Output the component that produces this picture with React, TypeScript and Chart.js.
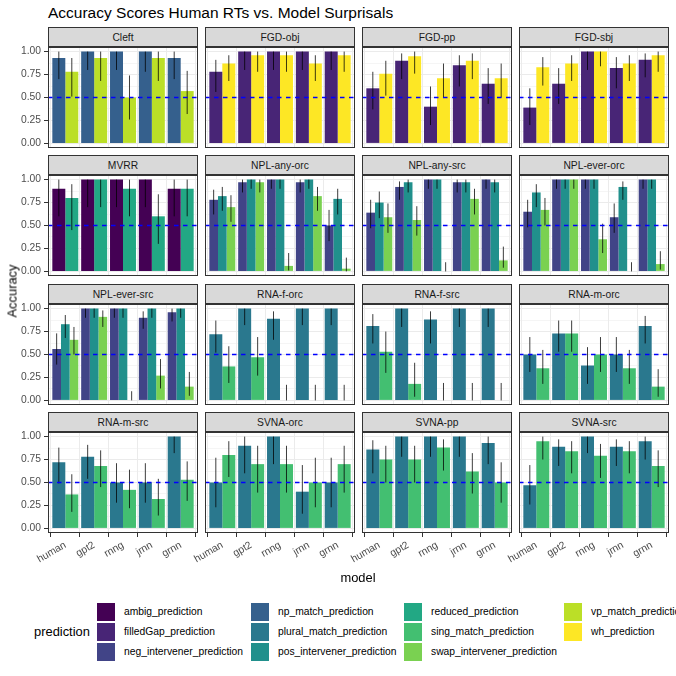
import React, { useEffect, useRef } from "react";
import { Chart, registerables } from "chart.js";

Chart.register(...registerables);

// ---------- data ----------
const models = ["human", "gpt2", "rnng", "jrnn", "grnn"];

const predictionNames = [
  "ambig_prediction",
  "filledGap_prediction",
  "neg_intervener_prediction",
  "np_match_prediction",
  "plural_match_prediction",
  "pos_intervener_prediction",
  "reduced_prediction",
  "sing_match_prediction",
  "swap_intervener_prediction",
  "vp_match_prediction",
  "wh_prediction",
];

const predictionColors = [
  "#440154",
  "#482576",
  "#414487",
  "#35608D",
  "#2A788E",
  "#21908C",
  "#22A884",
  "#43BF71",
  "#7AD151",
  "#BBDF27",
  "#FDE725",
];

const yTickValues = [0, 0.125, 0.25, 0.375, 0.5, 0.625, 0.75, 0.875, 1];
const yTickLabels = ["0.00", "", "0.25", "", "0.50", "", "0.75", "", "1.00"];

// Cleft: np_match, vp_match
const cleftPreds = [3, 9];
const cleftAcc = [[0.93, 1, 1, 1, 0.93], [0.78, 0.93, 0.5, 0.93, 0.57]];
const cleftLo = [[0.7, 0.8, 0.8, 0.78, 0.7], [0.51, 0.68, 0.26, 0.68, 0.32]];
const cleftHi = [[1, 1, 1, 1, 1], [0.93, 1, 0.74, 1, 0.79]];

// FGD-obj: filledGap, wh
const fgdObjPreds = [1, 10];
const fgdObjAcc = [[0.78, 1, 1, 1, 1], [0.87, 0.96, 0.96, 0.87, 0.96]];
const fgdObjLo = [[0.56, 0.8, 0.8, 0.8, 0.8], [0.68, 0.78, 0.78, 0.68, 0.78]];
const fgdObjHi = [[0.91, 1, 1, 1, 1], [0.96, 1, 1, 0.96, 1]];

// FGD-pp
const fgdPpPreds = [1, 10];
const fgdPpAcc = [[0.6, 0.9, 0.4, 0.85, 0.65], [0.76, 0.95, 0.71, 0.9, 0.71]];
const fgdPpLo = [[0.37, 0.7, 0.2, 0.62, 0.43], [0.52, 0.76, 0.5, 0.7, 0.5]];
const fgdPpHi = [[0.78, 0.98, 0.62, 0.96, 0.82], [0.9, 1, 0.87, 0.98, 0.87]];

// FGD-sbj
const fgdSbjPreds = [1, 10];
const fgdSbjAcc = [[0.39, 0.65, 1, 0.82, 0.91], [0.83, 0.87, 1, 0.87, 0.96]];
const fgdSbjLo = [[0.2, 0.43, 0.8, 0.6, 0.72], [0.63, 0.68, 0.84, 0.68, 0.78]];
const fgdSbjHi = [[0.6, 0.82, 1, 0.94, 0.98], [0.94, 0.96, 1, 0.96, 1]];

// MVRR: ambig, reduced
const mvrrPreds = [0, 6];
const mvrrAcc = [[0.9, 1, 1, 1, 0.9], [0.8, 1, 0.9, 0.6, 0.9]];
const mvrrLo = [[0.6, 0.7, 0.7, 0.7, 0.6], [0.45, 0.7, 0.6, 0.3, 0.6]];
const mvrrHi = [[1, 1, 1, 1, 1], [0.95, 1, 1, 0.84, 1]];

// NPL-any-orc: neg, pos, swap
const nplAnyOrcPreds = [2, 5, 8];
const nplAnyOrcAcc = [[0.78, 0.97, 1, 0.97, 0.5], [0.82, 1, 1, 1, 0.79], [0.7, 0.97, 0.06, 0.82, 0.03]];
const nplAnyOrcLo = [[0.62, 0.86, 0.9, 0.86, 0.33], [0.66, 0.9, 0.9, 0.9, 0.62], [0.54, 0.86, 0.01, 0.66, 0]];
const nplAnyOrcHi = [[0.89, 1, 1, 1, 0.67], [0.92, 1, 1, 1, 0.9], [0.83, 1, 0.2, 0.92, 0.15]];

// NPL-any-src
const nplAnySrcPreds = [2, 5, 8];
const nplAnySrcAcc = [[0.64, 0.92, 1, 0.97, 1], [0.75, 0.97, 1, 0.97, 0.97], [0.59, 0.56, 0, 0.79, 0.12]];
const nplAnySrcLo = [[0.47, 0.78, 0.9, 0.86, 0.9], [0.58, 0.86, 0.9, 0.86, 0.86], [0.42, 0.39, 0, 0.62, 0.04]];
const nplAnySrcHi = [[0.78, 0.98, 1, 1, 1], [0.87, 1, 1, 1, 1], [0.74, 0.71, 0.1, 0.9, 0.27]];

// NPL-ever-orc
const nplEverOrcPreds = [2, 5, 8];
const nplEverOrcAcc = [[0.65, 1, 1, 0.59, 1], [0.86, 1, 1, 0.92, 1], [0.67, 1, 0.35, 0, 0.08]];
const nplEverOrcLo = [[0.48, 0.9, 0.9, 0.42, 0.9], [0.7, 0.9, 0.9, 0.78, 0.9], [0.5, 0.9, 0.2, 0, 0.02]];
const nplEverOrcHi = [[0.78, 1, 1, 0.74, 1], [0.95, 1, 1, 0.98, 1], [0.8, 1, 0.52, 0.1, 0.22]];

// NPL-ever-src
const nplEverSrcPreds = [2, 5, 8];
const nplEverSrcAcc = [[0.56, 1, 1, 0.9, 0.96], [0.83, 1, 1, 1, 1], [0.66, 0.91, 0, 0.27, 0.15]];
const nplEverSrcLo = [[0.39, 0.9, 0.9, 0.78, 0.86], [0.68, 0.9, 0.9, 0.9, 0.9], [0.5, 0.8, 0, 0.13, 0.05]];
const nplEverSrcHi = [[0.73, 1, 1, 0.97, 1], [0.93, 1, 1, 1, 1], [0.8, 0.98, 0.1, 0.45, 0.31]];

// RNA-f-orc: plural, sing
const rnaFOrcPreds = [4, 7];
const rnaFOrcAcc = [[0.72, 1, 0.89, 1, 1], [0.37, 0.47, 0, 0, 0]];
const rnaFOrcLo = [[0.52, 0.82, 0.66, 0.82, 0.82], [0.19, 0.27, 0, 0, 0]];
const rnaFOrcHi = [[0.87, 1, 0.97, 1, 1], [0.59, 0.69, 0.17, 0.17, 0.17]];

// RNA-f-src
const rnaFSrcPreds = [4, 7];
const rnaFSrcAcc = [[0.81, 1, 0.88, 1, 1], [0.53, 0.18, 0, 0, 0]];
const rnaFSrcLo = [[0.62, 0.8, 0.62, 0.8, 0.8], [0.3, 0.04, 0, 0, 0]];
const rnaFSrcHi = [[0.94, 1, 0.97, 1, 1], [0.75, 0.41, 0.19, 0.19, 0.19]];

// RNA-m-orc
const rnaMOrcPreds = [4, 7];
const rnaMOrcAcc = [[0.5, 0.73, 0.38, 0.5, 0.81], [0.35, 0.73, 0.5, 0.35, 0.15]];
const rnaMOrcLo = [[0.31, 0.53, 0.18, 0.31, 0.62], [0.18, 0.53, 0.31, 0.18, 0.04]];
const rnaMOrcHi = [[0.69, 0.87, 0.58, 0.69, 0.92], [0.55, 0.87, 0.69, 0.55, 0.34]];

// RNA-m-src
const rnaMSrcPreds = [4, 7];
const rnaMSrcAcc = [[0.72, 0.78, 0.5, 0.5, 1], [0.37, 0.68, 0.42, 0.32, 0.53]];
const rnaMSrcLo = [[0.49, 0.54, 0.28, 0.28, 0.82], [0.18, 0.45, 0.22, 0.14, 0.3]];
const rnaMSrcHi = [[0.88, 0.91, 0.71, 0.71, 1], [0.59, 0.85, 0.64, 0.54, 0.73]];

// SVNA-orc
const svnaOrcPreds = [4, 7];
const svnaOrcAcc = [[0.5, 0.9, 1, 0.4, 0.5], [0.8, 0.7, 0.7, 0.5, 0.7]];
const svnaOrcLo = [[0.23, 0.6, 0.7, 0.16, 0.23], [0.56, 0.39, 0.39, 0.23, 0.39]];
const svnaOrcHi = [[0.77, 1, 1, 0.69, 0.77], [0.95, 0.9, 0.9, 0.77, 0.9]];

// SVNA-pp
const svnaPpPreds = [4, 7];
const svnaPpAcc = [[0.86, 1, 1, 1, 0.93], [0.75, 0.75, 0.88, 0.62, 0.5]];
const svnaPpLo = [[0.6, 0.78, 0.78, 0.78, 0.7], [0.5, 0.5, 0.63, 0.38, 0.28]];
const svnaPpHi = [[0.96, 1, 1, 1, 1], [0.9, 0.9, 0.97, 0.82, 0.72]];

// SVNA-src
const svnaSrcPreds = [4, 7];
const svnaSrcAcc = [[0.47, 0.89, 1, 0.89, 0.95], [0.95, 0.84, 0.79, 0.84, 0.68]];
const svnaSrcLo = [[0.26, 0.68, 0.82, 0.68, 0.75], [0.75, 0.6, 0.55, 0.6, 0.45]];
const svnaSrcHi = [[0.69, 0.97, 1, 0.97, 1], [1, 0.95, 0.92, 0.95, 0.85]];

const panelTitles = [
  "Cleft", "FGD-obj", "FGD-pp", "FGD-sbj",
  "MVRR", "NPL-any-orc", "NPL-any-src", "NPL-ever-orc",
  "NPL-ever-src", "RNA-f-orc", "RNA-f-src", "RNA-m-orc",
  "RNA-m-src", "SVNA-orc", "SVNA-pp", "SVNA-src",
];

const panels = [
  { preds: cleftPreds, acc: cleftAcc, lo: cleftLo, hi: cleftHi },
  { preds: fgdObjPreds, acc: fgdObjAcc, lo: fgdObjLo, hi: fgdObjHi },
  { preds: fgdPpPreds, acc: fgdPpAcc, lo: fgdPpLo, hi: fgdPpHi },
  { preds: fgdSbjPreds, acc: fgdSbjAcc, lo: fgdSbjLo, hi: fgdSbjHi },
  { preds: mvrrPreds, acc: mvrrAcc, lo: mvrrLo, hi: mvrrHi },
  { preds: nplAnyOrcPreds, acc: nplAnyOrcAcc, lo: nplAnyOrcLo, hi: nplAnyOrcHi },
  { preds: nplAnySrcPreds, acc: nplAnySrcAcc, lo: nplAnySrcLo, hi: nplAnySrcHi },
  { preds: nplEverOrcPreds, acc: nplEverOrcAcc, lo: nplEverOrcLo, hi: nplEverOrcHi },
  { preds: nplEverSrcPreds, acc: nplEverSrcAcc, lo: nplEverSrcLo, hi: nplEverSrcHi },
  { preds: rnaFOrcPreds, acc: rnaFOrcAcc, lo: rnaFOrcLo, hi: rnaFOrcHi },
  { preds: rnaFSrcPreds, acc: rnaFSrcAcc, lo: rnaFSrcLo, hi: rnaFSrcHi },
  { preds: rnaMOrcPreds, acc: rnaMOrcAcc, lo: rnaMOrcLo, hi: rnaMOrcHi },
  { preds: rnaMSrcPreds, acc: rnaMSrcAcc, lo: rnaMSrcLo, hi: rnaMSrcHi },
  { preds: svnaOrcPreds, acc: svnaOrcAcc, lo: svnaOrcLo, hi: svnaOrcHi },
  { preds: svnaPpPreds, acc: svnaPpAcc, lo: svnaPpLo, hi: svnaPpHi },
  { preds: svnaSrcPreds, acc: svnaSrcAcc, lo: svnaSrcLo, hi: svnaSrcHi },
];

const legendColumns = [[0, 1, 2], [3, 4, 5], [6, 7, 8], [9, 10]];

// ---------- layout ----------
const FONT = '"Liberation Sans", Arial, Helvetica, sans-serif';
const PANEL_LEFT = [48, 205, 362, 519];
const PANEL_TOP = [47, 175, 304, 432];
const PANEL_W = 150;
const PANEL_H = 101;
const STRIP_H = 20;
const YAXIS_W = 48;
const XAXIS_H = 56;
const TOP_PAD = 8;
const LEGEND_KEY_X = [97, 251, 404, 564];
const LEGEND_KEY_Y = [603, 623, 643];

function Panel({ index }: { index: number }) {
  const ref = useRef<HTMLCanvasElement | null>(null);
  const row = Math.floor(index / 4);
  const col = index % 4;
  const isLeft = col === 0;
  const isBottom = row === 3;
  const width = YAXIS_W + PANEL_W;
  const height = TOP_PAD + PANEL_H + (isBottom ? XAXIS_H : 0);

  useEffect(() => {
    const p = panels[index];
    const decor = {
      id: "panelDecor" + index,
      afterDatasetsDraw(chart: any) {
        const { ctx, chartArea, scales } = chart;
        ctx.save();
        ctx.strokeStyle = "rgba(0,0,0,0.85)";
        ctx.lineWidth = 0.9;
        p.preds.forEach((_: number, k: number) => {
          const meta = chart.getDatasetMeta(k);
          meta.data.forEach((el: any, i: number) => {
            const y1 = scales.y.getPixelForValue(p.lo[k][i]);
            const y2 = scales.y.getPixelForValue(p.hi[k][i]);
            ctx.beginPath();
            ctx.moveTo(el.x, y1);
            ctx.lineTo(el.x, y2);
            ctx.stroke();
          });
        });
        const yh = scales.y.getPixelForValue(0.5);
        ctx.strokeStyle = "#0000FF";
        ctx.lineWidth = 1.3;
        ctx.setLineDash([4.5, 4.5]);
        ctx.beginPath();
        ctx.moveTo(chartArea.left, yh);
        ctx.lineTo(chartArea.right, yh);
        ctx.stroke();
        ctx.setLineDash([]);
        ctx.strokeStyle = "#333333";
        ctx.lineWidth = 1;
        ctx.strokeRect(
          chartArea.left + 0.5,
          chartArea.top + 0.5,
          chartArea.right - chartArea.left - 1,
          chartArea.bottom - chartArea.top - 1
        );
        ctx.restore();
      },
    };

    const tickFont = { family: FONT, size: 10.3, weight: "normal" };
    const chart = new Chart(ref.current as HTMLCanvasElement, {
      type: "bar",
      data: {
        datasets: p.preds.map((pi: number, k: number) => ({
          label: predictionNames[pi],
          data: models.map((_, i) => ({ x: i + 1, y: p.acc[k][i] })),
          backgroundColor: predictionColors[pi],
          borderWidth: 0,
          categoryPercentage: 0.9,
          barPercentage: 1.0,
        })),
      },
      options: {
        animation: false,
        responsive: false,
        events: [],
        layout: { padding: { top: TOP_PAD, left: 0, right: 0, bottom: 0 } },
        plugins: {
          legend: { display: false },
          tooltip: { enabled: false },
          title: { display: false },
        },
        scales: {
          x: {
            type: "linear",
            min: 0.4,
            max: 5.6,
            offset: false,
            afterBuildTicks: (s: any) => {
              s.ticks = models.map((_, i) => ({ value: i + 1 }));
            },
            afterFit: (s: any) => {
              s.height = isBottom ? XAXIS_H : 0;
              s.paddingLeft = 0;
              s.paddingRight = 0;
              s.paddingTop = 0;
              s.paddingBottom = 0;
            },
            ticks: {
              display: isBottom,
              autoSkip: false,
              minRotation: 30,
              maxRotation: 30,
              padding: 2,
              color: "#4D4D4D",
              font: tickFont,
              callback: (v: any) => models[Math.round(v) - 1] ?? "",
            },
            grid: {
              color: "#EBEBEB",
              lineWidth: 1,
              drawTicks: isBottom,
              tickLength: 4,
              tickColor: "#333333",
              tickWidth: 1,
            },
            border: { display: false },
          },
          y: {
            type: "linear",
            min: -0.05,
            max: 1.05,
            afterBuildTicks: (s: any) => {
              s.ticks = yTickValues.map((v) => ({ value: v }));
            },
            afterFit: (s: any) => {
              s.width = YAXIS_W;
              s.paddingLeft = 0;
              s.paddingRight = 0;
              s.paddingTop = 0;
              s.paddingBottom = 0;
            },
            ticks: {
              display: isLeft,
              autoSkip: false,
              padding: 3,
              color: "#4D4D4D",
              font: tickFont,
              callback: (v: any, i: number) => yTickLabels[i] ?? "",
            },
            grid: {
              color: "#EBEBEB",
              lineWidth: (c: any) => (c.index % 2 === 0 ? 1 : 0.5),
              drawTicks: isLeft,
              tickLength: 4,
              tickWidth: 1,
              tickColor: (c: any) => (c.index % 2 === 0 ? "#333333" : "rgba(0,0,0,0)"),
            },
            border: { display: false },
          },
        },
      } as any,
      plugins: [decor],
    });
    return () => chart.destroy();
  }, [index]);

  return (
    <canvas
      ref={ref}
      width={width}
      height={height}
      style={{
        position: "absolute",
        left: PANEL_LEFT[col] - YAXIS_W,
        top: PANEL_TOP[row] - TOP_PAD,
        width,
        height,
      }}
    />
  );
}

export default function App() {
  const text = { fontWeight: 400 as const, whiteSpace: "nowrap" as const };
  return (
    <div
      style={{
        position: "absolute",
        left: 0,
        top: 0,
        width: 676,
        height: 676,
        overflow: "hidden",
        background: "#FFFFFF",
        fontFamily: FONT,
        fontWeight: 400,
      }}
    >
      <div
        style={{
          ...text,
          position: "absolute",
          left: 48,
          top: 4,
          fontSize: 15.5,
          lineHeight: "18px",
          color: "#000",
        }}
      >
        Accuracy Scores Human RTs vs. Model Surprisals
      </div>

      {panelTitles.map((t, i) => {
        const row = Math.floor(i / 4);
        const col = i % 4;
        return (
          <div
            key={"strip" + i}
            style={{
              ...text,
              position: "absolute",
              left: PANEL_LEFT[col],
              top: PANEL_TOP[row] - STRIP_H,
              width: PANEL_W,
              height: STRIP_H,
              boxSizing: "border-box",
              background: "#D9D9D9",
              border: "1px solid #333333",
              display: "flex",
              alignItems: "center",
              justifyContent: "center",
              fontSize: 10.3,
              color: "#1A1A1A",
            }}
          >
            {t}
          </div>
        );
      })}

      {panelTitles.map((_, i) => (
        <Panel key={"panel" + i} index={i} />
      ))}

      <div
        style={{
          position: "absolute",
          left: 0,
          top: 291,
          width: 24,
          height: 0,
        }}
      >
        <div
          style={{
            ...text,
            position: "absolute",
            left: 12,
            top: 0,
            transform: "translate(-50%, -50%) rotate(-90deg)",
            fontSize: 12.9,
            color: "#000",
          }}
        >
          Accuracy
        </div>
      </div>

      <div
        style={{
          ...text,
          position: "absolute",
          left: 258,
          width: 200,
          top: 570,
          textAlign: "center",
          fontSize: 12.9,
          lineHeight: "16px",
          color: "#000",
        }}
      >
        model
      </div>

      <div
        style={{
          ...text,
          position: "absolute",
          left: 34,
          top: 624,
          fontSize: 12.9,
          lineHeight: "16px",
          color: "#000",
        }}
      >
        prediction
      </div>

      {legendColumns.map((colItems, c) =>
        colItems.map((pi, r) => (
          <React.Fragment key={"lg" + pi}>
            <div
              style={{
                position: "absolute",
                left: LEGEND_KEY_X[c],
                top: LEGEND_KEY_Y[r],
                width: 18,
                height: 18,
                background: predictionColors[pi],
              }}
            />
            <div
              style={{
                ...text,
                position: "absolute",
                left: LEGEND_KEY_X[c] + 27,
                top: LEGEND_KEY_Y[r],
                height: 18,
                lineHeight: "18px",
                fontSize: 10.3,
                color: "#000",
              }}
            >
              {predictionNames[pi]}
            </div>
          </React.Fragment>
        ))
      )}
    </div>
  );
}
